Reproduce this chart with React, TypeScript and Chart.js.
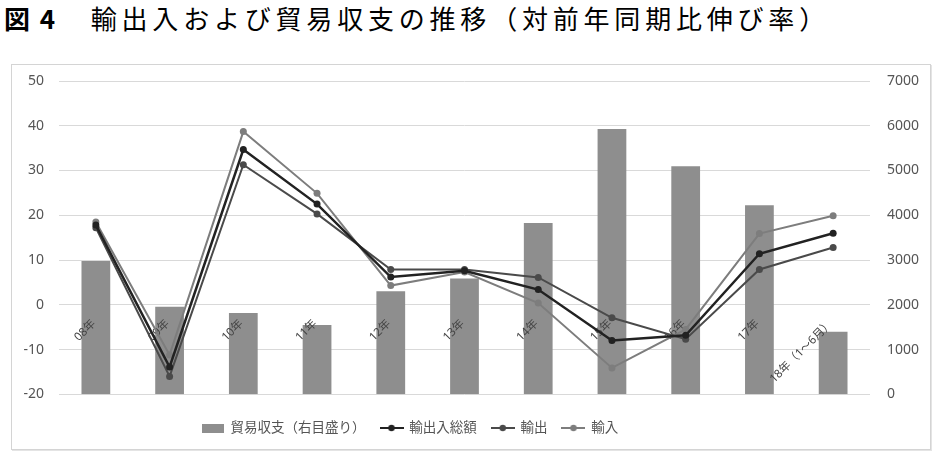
import React, { useEffect, useRef } from 'react';
import { Chart, registerables } from 'chart.js';

Chart.register(...registerables);

const categories = ['08年', '09年', '10年', '11年', '12年', '13年', '14年', '15年', '16年', '17年', '18年（1～6月）'];
const tradeBalance = [2981, 1957, 1815, 1549, 2303, 2590, 3825, 5930, 5097, 4225, 1398];
const totalTrade = [17.8, -13.9, 34.7, 22.5, 6.2, 7.6, 3.4, -8.0, -6.8, 11.4, 16.0];
const exportsGrowth = [17.2, -16.0, 31.3, 20.3, 7.9, 7.9, 6.1, -2.9, -7.7, 7.9, 12.8];
const importsGrowth = [18.5, -11.2, 38.7, 24.9, 4.3, 7.3, 0.4, -14.1, -5.5, 15.9, 19.9];
const seriesNames = ['貿易収支（右目盛り）', '輸出入総額', '輸出', '輸入'];
const leftAxis = { min: -20, max: 50, step: 10 };
const rightAxis = { min: 0, max: 7000, step: 1000 };

const FONT = "'Noto Sans', 'Noto Sans CJK JP', sans-serif";
const TEXT = '#555555';
const BAR = '#8e8e8e';
const C_TOTAL = '#222222';
const C_EXP = '#4a4a4a';
const C_IMP = '#7d7d7d';

function makeSwatch(kind: 'bar' | 'line', color: string): HTMLCanvasElement {
  const c = document.createElement('canvas');
  if (kind === 'bar') {
    c.width = 22;
    c.height = 9;
    const g = c.getContext('2d')!;
    g.fillStyle = color;
    g.fillRect(0, 0, 22, 9);
  } else {
    c.width = 24;
    c.height = 10;
    const g = c.getContext('2d')!;
    g.strokeStyle = color;
    g.lineWidth = 2;
    g.beginPath();
    g.moveTo(0, 5);
    g.lineTo(24, 5);
    g.stroke();
    g.fillStyle = color;
    g.beginPath();
    g.arc(12, 5, 3.2, 0, Math.PI * 2);
    g.fill();
  }
  return c;
}

const categoryLabelPlugin = {
  id: 'categoryLabels',
  afterDatasetDraw(chart: any, args: any) {
    if (args.meta.type !== 'bar') return;
    const { ctx } = chart;
    const xs = chart.scales.x;
    const ys = chart.scales.y;
    const y0 = ys.getPixelForValue(0);
    ctx.save();
    ctx.font = `11.5px ${FONT}`;
    ctx.fillStyle = '#444444';
    ctx.textAlign = 'right';
    ctx.textBaseline = 'middle';
    (chart.data.labels as string[]).forEach((lab, i) => {
      const x = xs.getPixelForValue(i);
      ctx.save();
      ctx.translate(x - 2, y0 + 17);
      ctx.rotate(-Math.PI / 4);
      ctx.fillText(lab, 0, 0);
      ctx.restore();
    });
    ctx.restore();
  },
};

const legendShiftPlugin = {
  id: 'legendShift',
  afterLayout(chart: any) {
    const lg = chart.legend;
    if (lg) {
      lg.left -= 61;
      lg.right -= 61;
    }
  },
};

export default function App() {
  const ref = useRef<HTMLCanvasElement | null>(null);

  useEffect(() => {
    if (!ref.current) return;
    const swatches = [
      makeSwatch('bar', BAR),
      makeSwatch('line', C_TOTAL),
      makeSwatch('line', C_EXP),
      makeSwatch('line', C_IMP),
    ];
    const chart = new Chart(ref.current, {
      type: 'bar',
      data: {
        labels: categories,
        datasets: [
          {
            type: 'bar',
            label: seriesNames[0],
            data: tradeBalance,
            backgroundColor: BAR,
            yAxisID: 'y2',
            barPercentage: 0.39,
            categoryPercentage: 1,
            order: 1,
          } as any,
          {
            type: 'line',
            label: seriesNames[1],
            data: totalTrade,
            borderColor: C_TOTAL,
            backgroundColor: C_TOTAL,
            borderWidth: 2.5,
            pointRadius: 3.5,
            pointBackgroundColor: C_TOTAL,
            pointBorderWidth: 0,
            yAxisID: 'y',
            order: 0,
          },
          {
            type: 'line',
            label: seriesNames[2],
            data: exportsGrowth,
            borderColor: C_EXP,
            backgroundColor: C_EXP,
            borderWidth: 2,
            pointRadius: 3.5,
            pointBackgroundColor: C_EXP,
            pointBorderWidth: 0,
            yAxisID: 'y',
            order: 0,
          },
          {
            type: 'line',
            label: seriesNames[3],
            data: importsGrowth,
            borderColor: C_IMP,
            backgroundColor: C_IMP,
            borderWidth: 2,
            pointRadius: 3.5,
            pointBackgroundColor: C_IMP,
            pointBorderWidth: 0,
            yAxisID: 'y',
            order: 0,
          },
        ],
      },
      options: {
        animation: false,
        responsive: false,
        maintainAspectRatio: false,
        layout: { padding: { top: 16, bottom: 4.25, left: 0, right: 0 } },
        plugins: {
          tooltip: { enabled: false },
          legend: {
            display: true,
            position: 'bottom',
            labels: {
              usePointStyle: true,
              pointStyleWidth: 22,
              boxHeight: 9,
              padding: 15,
              font: { family: FONT, size: 13.5 },
              color: TEXT,
              generateLabels: (ch: any) =>
                ch.data.datasets.map((ds: any, i: number) => ({
                  text: ds.label,
                  pointStyle: swatches[i],
                  fillStyle: ds.backgroundColor,
                  strokeStyle: ds.borderColor || ds.backgroundColor,
                  lineWidth: 0,
                  hidden: false,
                  datasetIndex: i,
                  fontColor: TEXT,
                })),
            },
          },
        },
        scales: {
          x: {
            type: 'category',
            offset: true,
            grid: { display: false },
            border: { display: false },
            ticks: { display: false },
            afterFit: (s: any) => {
              s.height = 11.95;
            },
          },
          y: {
            position: 'left',
            min: leftAxis.min,
            max: leftAxis.max,
            ticks: { stepSize: leftAxis.step, padding: 15, color: TEXT, font: { family: FONT, size: 14 } },
            grid: { color: '#d9d9d9', drawTicks: false, lineWidth: 1 },
            border: { display: false },
            afterFit: (s: any) => {
              s.width = 47;
              s.paddingTop = 8;
              s.paddingBottom = 8;
            },
          },
          y2: {
            position: 'right',
            min: rightAxis.min,
            max: rightAxis.max,
            ticks: {
              stepSize: rightAxis.step,
              padding: 17,
              color: TEXT,
              font: { family: FONT, size: 14 },
              callback: (v: any) => String(v),
            },
            grid: { display: false, drawTicks: false },
            border: { display: false },
            afterFit: (s: any) => {
              s.width = 60;
              s.paddingTop = 8;
              s.paddingBottom = 8;
            },
          },
        },
      } as any,
      plugins: [categoryLabelPlugin, legendShiftPlugin],
    });
    return () => chart.destroy();
  }, []);

  return (
    <div style={{ position: 'fixed', left: 0, top: 0, width: 944, height: 472, background: '#fff', overflow: 'hidden' }}>
      <div
        style={{
          position: 'absolute',
          left: 4,
          top: 5,
          lineHeight: '26px',
          fontSize: 26,
          fontFamily: "'Noto Sans CJK JP', sans-serif",
          color: '#000',
          letterSpacing: '4.8px',
          whiteSpace: 'nowrap',
        }}
      >
        <span style={{ fontWeight: 700 }}>図</span>
        <span style={{ fontWeight: 700, marginLeft: 5 }}>4</span>
        <span>　輸出入および貿易収支の推移（対前年同期比伸び率）</span>
      </div>
      <div
        style={{
          position: 'absolute',
          left: 11,
          top: 64,
          width: 920,
          height: 386,
          boxSizing: 'border-box',
          border: '1px solid #d4d4d4',
          boxShadow: '1px 1px 0 #e4e4e4',
        }}
      />
      <canvas
        ref={ref}
        width={918}
        height={384}
        style={{ position: 'absolute', left: 12, top: 65, width: 918, height: 384 }}
      />
    </div>
  );
}
